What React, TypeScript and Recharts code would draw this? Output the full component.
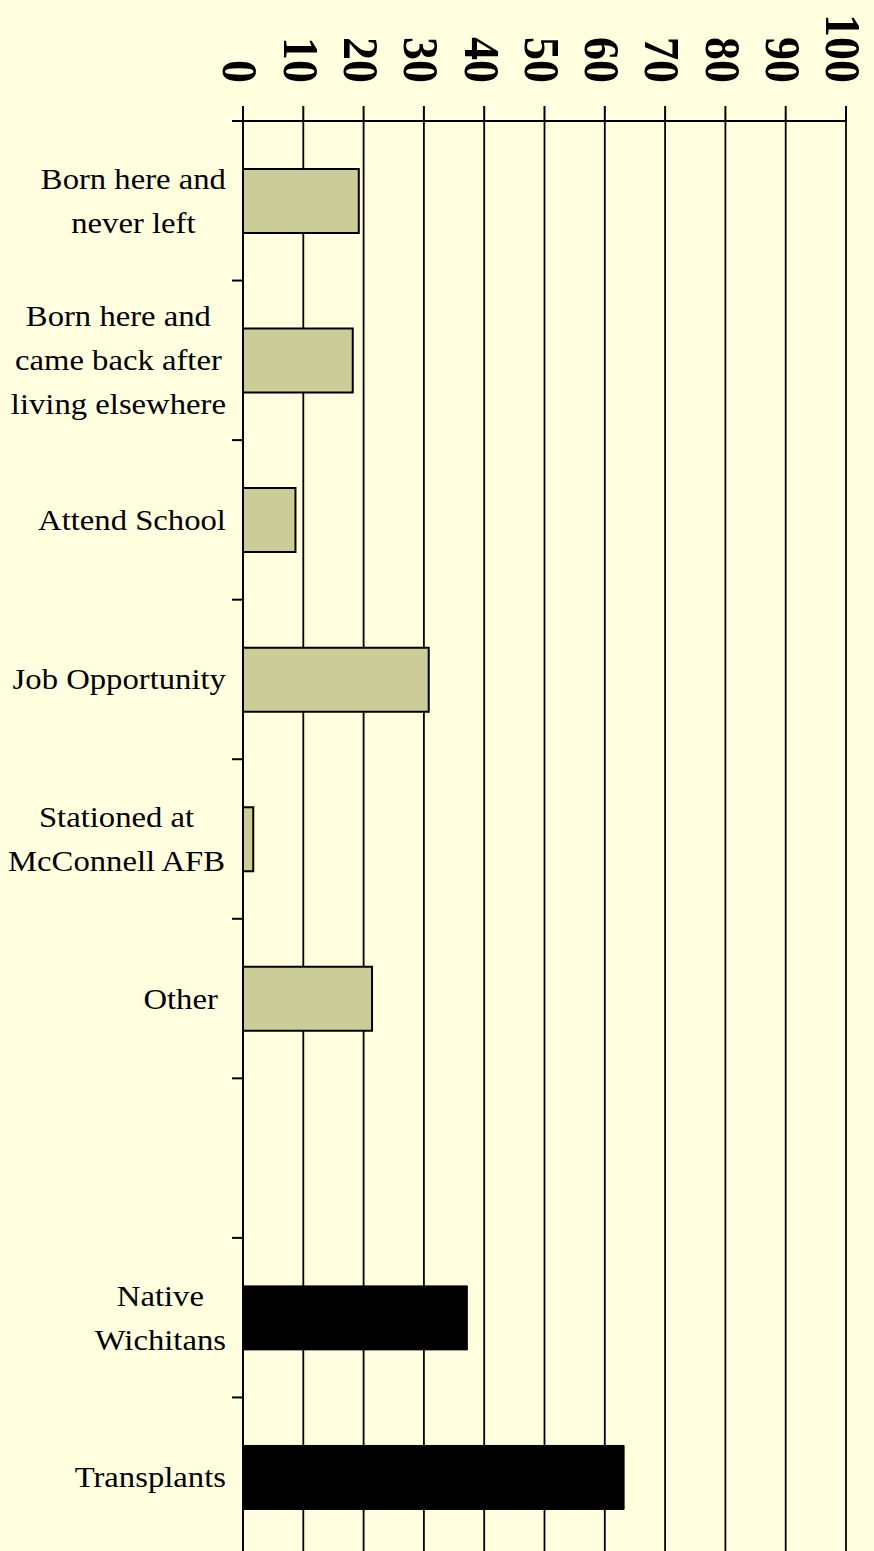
import React from 'react';
import { BarChart, Bar, XAxis, YAxis, CartesianGrid } from 'recharts';

// ---- data ----
const categories = [
  'Born here and\nnever left',
  'Born here and\ncame back after\nliving elsewhere',
  'Attend School',
  'Job Opportunity',
  'Stationed at\nMcConnell AFB',
  'Other ',
  ' ',
  'Native\nWichitans',
  'Transplants',
];
const reasonValues: (number | null)[] = [19.2, 18.2, 8.7, 30.8, 1.7, 21.4, null, null, null];
const totalValues: (number | null)[] = [null, null, null, null, null, null, null, 37.2, 63.2];
const xTicks = [0, 10, 20, 30, 40, 50, 60, 70, 80, 90, 100];
const bandEdgeTicks = [0, 1, 2, 3, 4, 5, 6, 7, 8, 9];

const data = categories.map((c, i) => ({
  category: c,
  reasons: reasonValues[i],
  totals: totalValues[i],
}));

// ---- style ----
const W = 874;
const H = 1551;
const CHART_H = 1557;
const BG = '#FFFFE0';
const TAN = '#CCCC99';
const INK = '#000000';
const SERIF = "'Liberation Serif', 'Times New Roman', serif";
const SX = 1.09; // horizontal stretch of the reference text
const LABEL_SIZE = 30;
const LINE_H = 44;

let measureCtx: CanvasRenderingContext2D | null = null;
function measure(text: string): number {
  if (!measureCtx) {
    const c = document.createElement('canvas');
    measureCtx = c.getContext('2d');
  }
  if (!measureCtx) return text.length * LABEL_SIZE * 0.45;
  measureCtx.font = `${LABEL_SIZE}px 'Liberation Serif'`;
  return measureCtx.measureText(text).width;
}

const EmptyTick = () => null;

const CategoryTick = (props: any) => {
  const { x, y, payload } = props;
  const raw = String(payload?.value ?? '');
  if (!raw.trim()) return null;
  const lines = raw.split('\n');
  const maxW = Math.max(...lines.map(measure)) * SX;
  const cx = x - maxW / 2;
  const first = y - ((lines.length - 1) * LINE_H) / 2 + 10;
  return (
    <g transform={`translate(${cx},0) scale(${SX},1)`}>
      {lines.map((ln, i) => (
        <text
          key={i}
          x={0}
          y={first + i * LINE_H}
          textAnchor="middle"
          fontFamily={SERIF}
          fontSize={LABEL_SIZE}
          fill={INK}
          style={{ whiteSpace: 'pre' }}
        >
          {ln}
        </text>
      ))}
    </g>
  );
};

const TopTick = (props: any) => {
  const { x, y, payload } = props;
  return (
    <g transform={`translate(${x},${y}) scale(${SX},1) rotate(90)`}>
      <text
        x={0}
        y={0}
        dy={18}
        textAnchor="end"
        fontFamily={SERIF}
        fontWeight="bold"
        fontSize={46}
        fill={INK}
      >
        {payload.value}
      </text>
    </g>
  );
};

export default function App() {
  return (
    <div style={{ width: W, height: H, background: BG, overflow: 'hidden' }}>
      <style>{`html,body{margin:0;padding:0;background:${BG};overflow:hidden;}`}</style>
      <BarChart
        width={W}
        height={CHART_H}
        data={data}
        layout="vertical"
        margin={{ top: 0, right: 28, bottom: 0, left: 0 }}
        barSize={64}
      >
        <CartesianGrid
          horizontal={false}
          vertical={true}
          stroke={INK}
          strokeWidth={1.8}
          yAxisId="b"
        />
        <XAxis
          type="number"
          orientation="top"
          domain={[0, 100]}
          ticks={xTicks}
          interval={0}
          height={121}
          tickSize={15}
          tickMargin={23}
          axisLine={{ stroke: INK, strokeWidth: 2 }}
          tickLine={{ stroke: INK, strokeWidth: 2 }}
          tick={<TopTick />}
          allowDataOverflow
        />
        <YAxis
          yAxisId="a"
          type="number"
          dataKey="bandEdge"
          domain={[0, 9]}
          ticks={bandEdgeTicks}
          interval={0}
          reversed
          allowDataOverflow
          width={12}
          tick={EmptyTick}
          tickSize={11}
          tickMargin={0}
          axisLine={{ stroke: INK, strokeWidth: 2 }}
          tickLine={{ stroke: INK, strokeWidth: 2 }}
        />
        <YAxis
          yAxisId="b"
          type="category"
          dataKey="category"
          width={231}
          interval={0}
          tickLine={false}
          axisLine={false}
          tickSize={0}
          tickMargin={5}
          tick={<CategoryTick />}
        />
        <Bar
          dataKey="reasons"
          yAxisId="b"
          stackId="s"
          fill={TAN}
          stroke={INK}
          strokeWidth={2}
          isAnimationActive={false}
        />
        <Bar
          dataKey="totals"
          yAxisId="b"
          stackId="s"
          fill={INK}
          stroke={INK}
          strokeWidth={1}
          isAnimationActive={false}
        />
      </BarChart>
    </div>
  );
}
